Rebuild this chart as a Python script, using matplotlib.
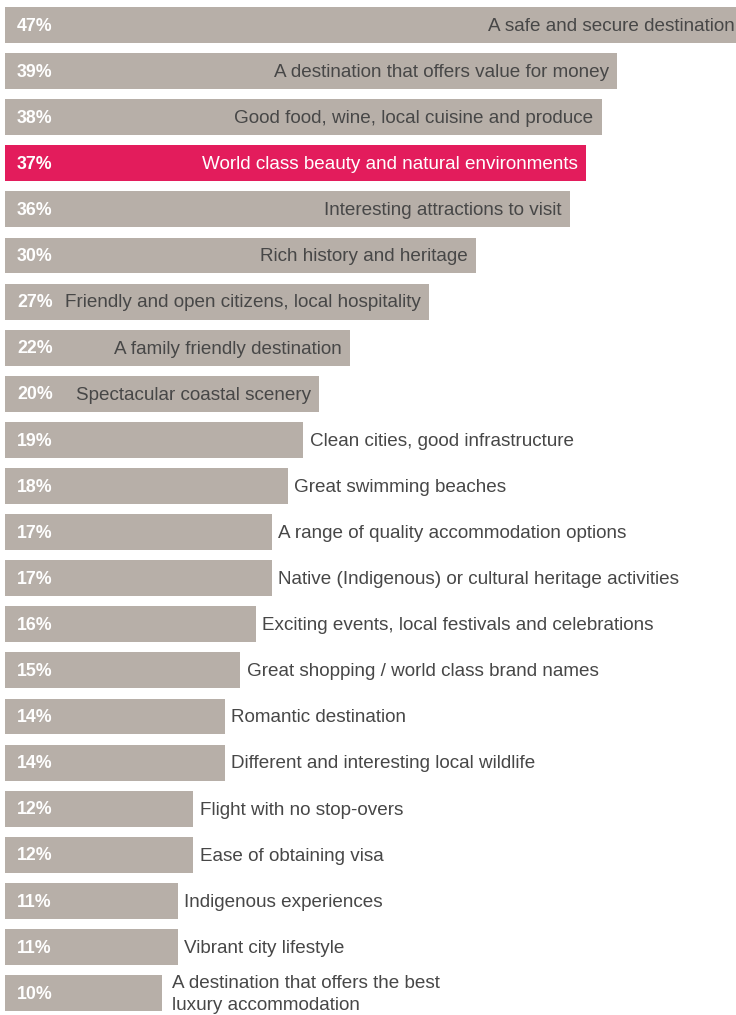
import matplotlib
matplotlib.use("Agg")
import matplotlib.pyplot as plt

categories = [
    "A safe and secure destination",
    "A destination that offers value for money",
    "Good food, wine, local cuisine and produce",
    "World class beauty and natural environments",
    "Interesting attractions to visit",
    "Rich history and heritage",
    "Friendly and open citizens, local hospitality",
    "A family friendly destination",
    "Spectacular coastal scenery",
    "Clean cities, good infrastructure",
    "Great swimming beaches",
    "A range of quality accommodation options",
    "Native (Indigenous) or cultural heritage activities",
    "Exciting events, local festivals and celebrations",
    "Great shopping / world class brand names",
    "Romantic destination",
    "Different and interesting local wildlife",
    "Flight with no stop-overs",
    "Ease of obtaining visa",
    "Indigenous experiences",
    "Vibrant city lifestyle",
    "A destination that offers the best\nluxury accommodation",
]
values = [47, 39, 38, 37, 36, 30, 27, 22, 20, 19, 18, 17, 17, 16, 15, 14, 14, 12, 12, 11, 11, 10]
highlight = "World class beauty and natural environments"

GREY = "#b7afa8"
PINK = "#e31c5c"
TEXT = "#474747"

plt.rcParams['font.family'] = ['Liberation Sans', 'DejaVu Sans']

W, H = 736, 1015
fig = plt.figure(figsize=(W / 100, H / 100), dpi=100)
ax = fig.add_axes([5 / W, 0, (W - 5) / W, 1])
px_per_unit = 15.7
ax.set_xlim(0, (W - 5) / px_per_unit)
step = 46.1
ax.set_ylim((H - 25) / step, -25 / step)
ax.axis("off")

ys = list(range(len(values)))
colors = [PINK if c == highlight else GREY for c in categories]
ax.barh(ys, values, height=0.78, color=colors, clip_on=True)

for y, v, c in zip(ys, values, categories):
    ax.annotate(f"{v}%", xy=(0, y), xytext=(8.6, -0.8), textcoords="offset points",
                ha="left", va="center", color="white", fontsize=12.8, fontweight="bold")
    inside = v >= 20
    if inside:
        col = "white" if c == highlight else TEXT
        ax.annotate(c, xy=(v, y), xytext=(-6, -1), textcoords="offset points",
                    ha="right", va="center", color=col, fontsize=13.6,
                    annotation_clip=False)
    else:
        pad = 7 if "\n" in c else 4.5
        ax.annotate(c, xy=(v, y), xytext=(pad, -1), textcoords="offset points",
                    ha="left", va="center", color=TEXT, fontsize=13.6,
                    linespacing=1.45, annotation_clip=False)

fig.savefig("out.png", dpi=100)
